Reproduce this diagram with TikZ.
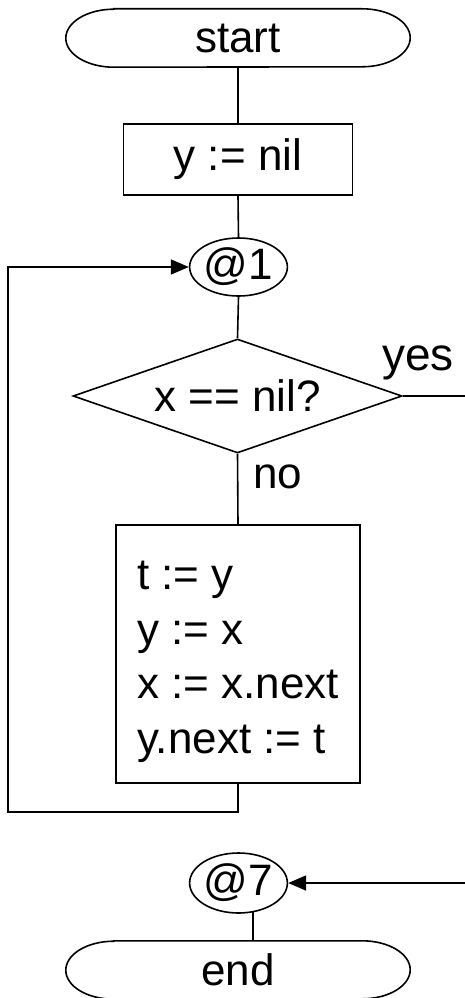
\documentclass[tikz,border=0pt]{standalone}
\usepackage{fontspec}
\setmainfont{Liberation Sans}
\usetikzlibrary{shapes.geometric,arrows.meta}
\begin{document}
\begin{tikzpicture}[x=1pt,y=1pt,
  every node/.style={font=\fontsize{44}{54.7}\selectfont},
  line/.style={line width=1.6pt},
  arrow/.style={line width=1.6pt,-{Triangle[length=18pt,width=15pt]}},
  termbox/.style={minimum width=344pt,minimum height=58pt,inner sep=0pt},
  procbox/.style={draw,line width=1.6pt,rectangle,inner sep=0pt},
  connector/.style={draw,line width=1.6pt,ellipse,minimum width=87pt,minimum height=58pt,inner sep=0pt},
  decision/.style={draw,line width=1.6pt,diamond,aspect=2.89,minimum width=329pt,minimum height=114pt,inner sep=0pt}]
\useasboundingbox (0,0) rectangle (465,-998);

\node[termbox] (start) at (238,-38) {start};
\node[procbox,minimum width=229pt,minimum height=71pt] (ynil) at (238,-159.5) {y := nil};
\node[connector] (at1) at (238.5,-267) {@1};
\node[decision] (d) at (237.5,-396) {x == nil?};
\node[procbox,minimum width=244pt,minimum height=258pt,align=left] (body) at (238,-654) {\rule{0pt}{44pt}t := y\\y := x\\x := x.next\\y.next := t};
\node[connector,minimum height=60pt] (at7) at (238.5,-883) {@7};
\node[termbox] (end) at (238,-970) {end};

\node[anchor=base west,inner sep=0pt,font=\fontsize{46}{54}\selectfont] (yes) at (382,-370) {yes};
\node[anchor=base west,inner sep=0pt] (no) at (253,-488) {no};

% stadium outlines
\draw[line] ([xshift=48pt]start.north west) -- ([xshift=-48pt]start.north east)
  arc[start angle=90,end angle=-90,x radius=48pt,y radius=29pt]
  -- ([xshift=48pt]start.south west)
  arc[start angle=270,end angle=90,x radius=48pt,y radius=29pt] -- cycle;
\draw[line] ([xshift=48pt]end.north west) -- ([xshift=-48pt]end.north east)
  arc[start angle=90,end angle=-90,x radius=48pt,y radius=29pt]
  -- ([xshift=48pt]end.south west)
  arc[start angle=270,end angle=90,x radius=48pt,y radius=29pt] -- cycle;

\coordinate (ll) at (8,-812);
\coordinate (yesend) at (465,-396);
\coordinate (in7) at (465,-883);

\draw[line] (start.south) -- (ynil.north);
\draw[line] (ynil.south) -- (at1.north);
\draw[line] (at1.south) -- (d.north);
\draw[line] (d.south) -- (body.north);
\draw[line] (d.east) -- (yesend);
\draw[arrow] (body.south) |- (ll) |- (at1.west);
\draw[arrow] (in7) -- (at7.east);
\draw[line] (at7.-64) -- (at7.-64 |- end.north);
\end{tikzpicture}
\end{document}
